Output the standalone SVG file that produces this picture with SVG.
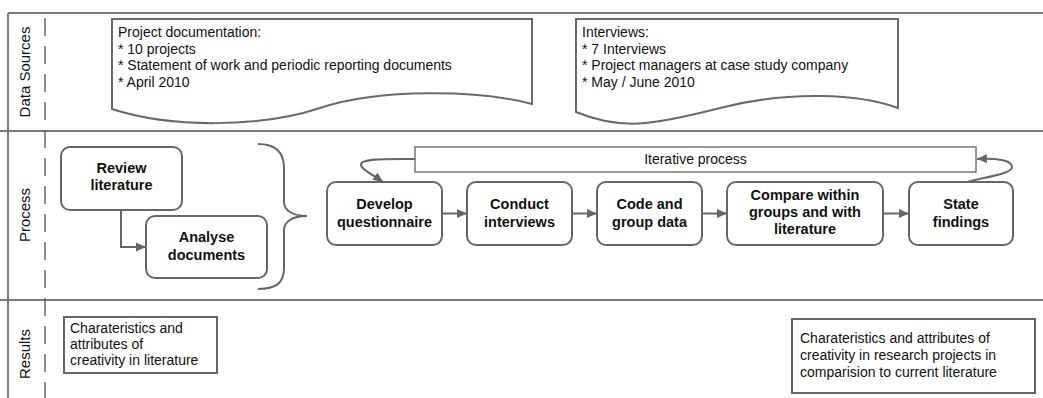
<svg xmlns="http://www.w3.org/2000/svg" width="1043" height="398" viewBox="0 0 1043 398">
  <style>
    .frame { stroke: #7a7a7a; stroke-width: 2; fill: none; }
    .dash { stroke: #555; stroke-width: 1.3; stroke-dasharray: 18 10; fill: none; }
    .lane { font-family: "Liberation Sans", Arial, sans-serif; font-size: 15px; fill: #111; text-anchor: middle; }
    .doc { fill: #fff; stroke: #6a6a6a; stroke-width: 2; }
    .txt { font-family: "Liberation Sans", Arial, sans-serif; font-size: 14px; fill: #111; }
    .node rect { fill: #fff; stroke: #666; stroke-width: 2; }
    .bold { font-family: "Liberation Sans", Arial, sans-serif; font-size: 14.5px; font-weight: bold; fill: #111; text-anchor: middle; }
    .conn { stroke: #666; stroke-width: 2; fill: none; }
    .res { fill: #fff; stroke: #666; stroke-width: 2; }
  </style>
  <defs>
    <marker id="arrow" markerWidth="10" markerHeight="10" refX="10" refY="5" orient="auto" markerUnits="userSpaceOnUse" viewBox="0 0 10 10">
      <path d="M0,0.5 L10,5 L0,9.5 Z" fill="#666"/>
    </marker>
  </defs>

  <!-- swimlane frame -->
  <g id="frame">
    <line class="frame" x1="8" y1="13" x2="1043" y2="13"/>
    <line class="frame" x1="8" y1="13" x2="8" y2="398"/>
    <line class="frame" x1="0" y1="131" x2="1043" y2="131"/>
    <line class="frame" x1="0" y1="300" x2="1043" y2="300"/>
    <line class="dash" x1="45" y1="18" x2="45" y2="398"/>
    <text class="lane" transform="translate(30,72) rotate(-90)">Data Sources</text>
    <text class="lane" transform="translate(30,215) rotate(-90)">Process</text>
    <text class="lane" transform="translate(30,354) rotate(-90)">Results</text>
  </g>

  <!-- data source documents -->
  <g id="doc-project">
    <path class="doc" d="M112,19 H532 V104 C480,90 380,88 320,108 S170,128 112,109 Z"/>
    <text class="txt" x="118" y="37">Project documentation:</text>
    <text class="txt" x="118" y="53.5">* 10 projects</text>
    <text class="txt" x="118" y="70">* Statement of work and periodic reporting documents</text>
    <text class="txt" x="118" y="86.5">* April 2010</text>
  </g>
  <g id="doc-interviews">
    <path class="doc" d="M576,19 H898 V108 C860,94 790,90 720,108 S620,130 576,112 Z"/>
    <text class="txt" x="582" y="37">Interviews:</text>
    <text class="txt" x="582" y="53.5">* 7 Interviews</text>
    <text class="txt" x="582" y="70">* Project managers at case study company</text>
    <text class="txt" x="582" y="86.5">* May / June 2010</text>
  </g>

  <!-- process nodes -->
  <g id="review" class="node">
    <rect x="61" y="147" width="121" height="63" rx="9"/>
    <text class="bold" x="121.5" y="173">Review</text>
    <text class="bold" x="121.5" y="190">literature</text>
  </g>
  <g id="analyse" class="node">
    <rect x="146" y="216" width="121" height="62" rx="9"/>
    <text class="bold" x="206.5" y="242">Analyse</text>
    <text class="bold" x="206.5" y="260">documents</text>
  </g>
  <g id="brace">
    <path class="conn" d="M258,144 C276,144 284,152 284,168 L284,202 C284,210 292,216 307,216 C292,216 284,222 284,230 L284,268 C284,283 276,289 258,289"/>
  </g>
  <g id="iterative">
    <rect x="415" y="147" width="561" height="25" fill="#fff" stroke="#777" stroke-width="1.5"/>
    <text class="txt" x="695.5" y="164" text-anchor="middle" font-size="14.5">Iterative process</text>
  </g>
  <g id="develop" class="node">
    <rect x="327" y="182" width="115" height="63" rx="9"/>
    <text class="bold" x="384.5" y="209">Develop</text>
    <text class="bold" x="384.5" y="227">questionnaire</text>
  </g>
  <g id="conduct" class="node">
    <rect x="467" y="182" width="105" height="63" rx="9"/>
    <text class="bold" x="519.5" y="209">Conduct</text>
    <text class="bold" x="519.5" y="227">interviews</text>
  </g>
  <g id="code" class="node">
    <rect x="597" y="182" width="105" height="63" rx="9"/>
    <text class="bold" x="649.5" y="209">Code and</text>
    <text class="bold" x="649.5" y="227">group data</text>
  </g>
  <g id="compare" class="node">
    <rect x="727" y="182" width="156" height="63" rx="9"/>
    <text class="bold" x="805" y="200">Compare within</text>
    <text class="bold" x="805" y="217">groups and with</text>
    <text class="bold" x="805" y="233.5">literature</text>
  </g>
  <g id="state" class="node">
    <rect x="909" y="182" width="104" height="63" rx="9"/>
    <text class="bold" x="961" y="209">State</text>
    <text class="bold" x="961" y="227">findings</text>
  </g>

  <!-- connectors -->
  <g id="connectors">
    <path class="conn" d="M121,210 V247 H146" marker-end="url(#arrow)"/>
    <path class="conn" d="M442,213.5 H467" marker-end="url(#arrow)"/>
    <path class="conn" d="M572,213.5 H597" marker-end="url(#arrow)"/>
    <path class="conn" d="M702,213.5 H727" marker-end="url(#arrow)"/>
    <path class="conn" d="M883,213.5 H909" marker-end="url(#arrow)"/>
    <path class="conn" d="M415,159 C392,159 362,158 361,164 C360,169 372,174 383,182" marker-end="url(#arrow)"/>
    <path class="conn" d="M967,182 C985,177 1012,174 1012,167 C1012,160 996,158 977,159" marker-end="url(#arrow)"/>
  </g>

  <!-- results -->
  <g id="result-literature">
    <rect class="res" x="64" y="317" width="153" height="56"/>
    <text class="txt" x="70" y="333" font-size="14.5">Charateristics and</text>
    <text class="txt" x="70" y="349" font-size="14.5">attributes of</text>
    <text class="txt" x="70" y="365" font-size="14.5">creativity in literature</text>
  </g>
  <g id="result-projects">
    <rect class="res" x="792" y="319" width="243" height="74"/>
    <text class="txt" x="800" y="343">Charateristics and attributes of</text>
    <text class="txt" x="800" y="360">creativity in research projects in</text>
    <text class="txt" x="800" y="377">comparision to current literature</text>
  </g>
</svg>
